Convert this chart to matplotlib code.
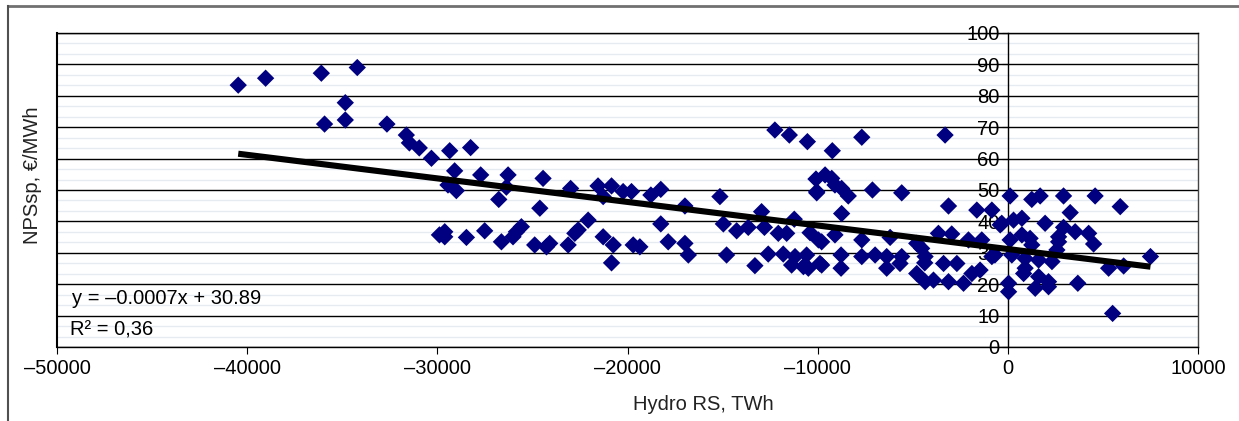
import numpy as np
import matplotlib
matplotlib.use("Agg")
import matplotlib.pyplot as plt
from matplotlib.ticker import FuncFormatter, MultipleLocator
from matplotlib.lines import Line2D

plt.rcParams['font.family'] = ['Liberation Sans', 'DejaVu Sans']

# Hydro RS (TWh) vs NPSsp (EUR/MWh)
hydro_rs = [
    -40470, -39030, -36100, -34210, -34840, -35930, -34840, -32650, -31630, -31470,
    -30950, -30310, -29350, -28250, -29090, -29440, -29000, -27720, -26280, -26370,
    -26770, -24440, -24610, -22990, -21550, -20840, -21280, -29610, -29610, -29890,
    -28470, -27510, -26630, -25840, -25580, -26020, -24880, -24260, -24090, -23120,
    -22770, -22590, -22070, -21280, -20750, -20840, -20230, -19790, -18770, -18250,
    -16980, -15140, -12250, -11490, -10540, -10090, -10050, -12950, -11230, -18250,
    -14960, -14260, -13650, -12800, -12070, -11630, -10400, -19700, -19350, -17860,
    -16980, -16800, -14790, -13300, -12600, -11810, -11190, -11370, -10580, -10490,
    -10750, -9880, -9960, -9230, -7680, -3300, -9610, -9260, -9090, -10050,
    -8740, -8390, -7120, -5580, -8740, -3120, -1630, -840, -400, -9790,
    -9090, -7680, -6190, -4790, -3650, -2950, -2070, -1370, -9790, -8770,
    -8770, -7680, -6980, -6370, -6370, -5580, -5670, -4790, -4530, -4350,
    -4350, -3910, -4370, -3380, -3120, -2680, -2330, -1890, -1460, -840,
    120, 1260, 1700, 2930, 4590, 5910, 3280, -320, 300, 740,
    1960, 2930, 3540, 4250, 4510, 2670, 2670, 120, 740, 1170,
    1260, 2580, 210, 910, 1620, 2320, -680, 5300, 6090, 7500,
    910, 830, 1620, 40, 40, 1440, 2140, 2140, 3680, 5510,
]
nps_sp = [
    83.4, 85.6, 87.2, 89.0, 77.8, 71.0, 72.3, 71.0, 67.5, 65.0,
    63.4, 60.1, 62.5, 63.5, 56.1, 51.6, 49.8, 54.8, 54.8, 50.9,
    47.0, 53.7, 44.2, 50.5, 51.3, 51.3, 47.9, 36.7, 35.1, 35.7,
    34.9, 37.0, 33.5, 36.7, 38.3, 35.1, 32.5, 31.9, 33.0, 32.5,
    36.2, 37.3, 40.4, 35.1, 32.5, 26.8, 49.5, 49.5, 48.4, 50.2,
    44.9, 47.9, 69.1, 67.5, 65.4, 53.5, 49.5, 43.1, 40.7, 39.2,
    39.2, 37.0, 38.1, 38.1, 36.2, 36.2, 36.4, 32.5, 31.9, 33.5,
    33.0, 29.3, 29.3, 25.9, 29.6, 29.6, 28.8, 26.1, 29.3, 25.1,
    25.6, 26.6, 34.1, 62.5, 66.8, 67.5, 54.8, 53.7, 51.6, 49.1,
    50.5, 48.1, 50.0, 49.1, 42.5, 44.9, 43.6, 43.6, 38.9, 33.5,
    35.7, 34.1, 34.9, 33.0, 36.2, 36.0, 34.1, 34.1, 26.1, 29.3,
    25.1, 28.8, 29.3, 28.8, 25.1, 28.8, 26.6, 23.4, 31.4, 28.8,
    20.8, 21.3, 26.8, 26.6, 20.8, 26.6, 20.3, 23.4, 24.5, 28.8,
    48.1, 47.0, 48.1, 48.1, 48.1, 44.7, 42.8, 39.4, 40.4, 41.0,
    39.4, 38.1, 36.7, 36.2, 32.8, 35.1, 33.5, 34.1, 35.7, 34.6,
    32.5, 30.9, 29.3, 28.2, 27.7, 27.2, 29.3, 25.1, 25.8, 28.8,
    25.1, 23.4, 22.4, 20.3, 17.6, 18.7, 19.2, 20.8, 20.3, 10.7,
]

# linear trend as drawn in the chart
trend_slope = -0.00075
trend_intercept = 31.2
eq_text = "y = \u20130.0007x + 30.89"
r2_text = "R\u00b2 = 0,36"

x_ticks = [-50000, -40000, -30000, -20000, -10000, 0, 10000]
y_ticks = [0, 10, 20, 30, 40, 50, 60, 70, 80, 90, 100]

fig = plt.figure(figsize=(12.39, 4.21), dpi=100)
ax = fig.add_axes([57/1239, 1 - 347/421, (1198 - 57)/1239, (347 - 33)/421])

ax.set_xlim(-50000, 10000)
ax.set_ylim(0, 100)

# grid: light minor lines and black major lines
ax.yaxis.set_minor_locator(MultipleLocator(10/3))
ax.grid(which='minor', axis='y', color='#e6ebf2', lw=1.0, zorder=0)
ax.grid(which='major', axis='y', color='black', lw=1.0, zorder=0.5)
ax.tick_params(which='minor', left=False)

# y axis crossing at x = 0
ax.spines['left'].set_position(('data', 0))
for s in ['top', 'right', 'bottom', 'left']:
    ax.spines[s].set_color('black')
    ax.spines[s].set_linewidth(1.0)
ax.spines['right'].set_color('#444444')
ax.plot([0, 0], [0, 1], transform=ax.transAxes, color='black', lw=1.5, zorder=5, clip_on=False)

ax.set_xticks(x_ticks)
ax.set_yticks(y_ticks)
fmt = FuncFormatter(lambda v, p: ('\u2013%d' % -v) if v < 0 else '%d' % v)
ax.xaxis.set_major_formatter(fmt)
ax.tick_params(axis='x', direction='out', length=5, labelsize=14.5, pad=4)
ax.tick_params(axis='y', direction='out', length=4, labelsize=14.5, pad=2)

ax.scatter(hydro_rs, nps_sp, marker='D', s=78, color='#000080', edgecolors='none', zorder=3)

xs = np.array([min(hydro_rs), max(hydro_rs)])
ax.plot(xs, trend_slope * xs + trend_intercept, color='black', lw=4.4,
        solid_capstyle='butt', zorder=4)

fig.text(72/1239, 1 - 298/421, eq_text, fontsize=14.5, va='center', ha='left')
fig.text(70/1239, 1 - 330/421, r2_text, fontsize=14.5, va='center', ha='left')

fig.text(703/1239, 1 - 404/421, "Hydro RS, TWh", fontsize=14.5, ha='center', va='center', color='#222222')
fig.text(32/1239, 1 - 175/421, "NPSsp, \u20ac/MWh", fontsize=14.5, ha='center', va='center',
         rotation=90, color='#222222')

# outer chart frame (left and top edges only are visible)
top_y = 1 - 5.5/421
left_x = 7.5/1239
fig.add_artist(Line2D([left_x, 1.0], [top_y, top_y], transform=fig.transFigure,
                      color='#707070', lw=2.0))
fig.add_artist(Line2D([left_x, left_x], [0.0, top_y], transform=fig.transFigure,
                      color='#505050', lw=1.5))

fig.savefig('out.png', dpi=100)
